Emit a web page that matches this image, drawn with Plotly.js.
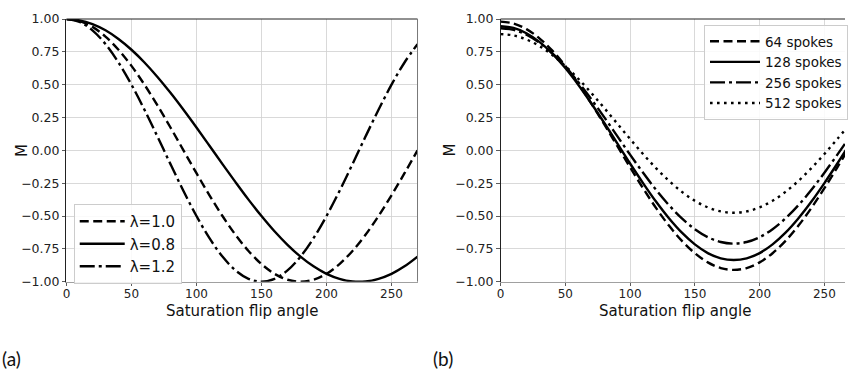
<!DOCTYPE html>
<html>
<head>
<meta charset="utf-8">
<script src="https://cdn.plot.ly/plotly-3.0.1.min.js"></script>
<style>
html,body{margin:0;padding:0;background:#fff;overflow:hidden;}
#chart{width:848px;height:370px;overflow:hidden;}
</style>
</head>
<body>
<div id="chart"></div>
<script>
// ---- data ----
const angleLeft = [0,10,20,30,40,50,60,70,80,90,100,110,120,130,140,150,160,170,180,190,200,210,220,230,240,250,260,270];
const lambda10 = [1,0.985,0.940,0.866,0.766,0.643,0.5,0.342,0.174,0,-0.174,-0.342,-0.5,-0.643,-0.766,-0.866,-0.940,-0.985,-1,-0.985,-0.940,-0.866,-0.766,-0.643,-0.5,-0.342,-0.174,0];
const lambda08 = [1,0.990,0.961,0.914,0.848,0.766,0.669,0.559,0.438,0.309,0.174,0.035,-0.105,-0.242,-0.375,-0.5,-0.616,-0.719,-0.809,-0.883,-0.940,-0.978,-0.998,-0.998,-0.978,-0.940,-0.883,-0.809];
const lambda12 = [1,0.978,0.914,0.809,0.669,0.5,0.309,0.105,-0.105,-0.309,-0.5,-0.669,-0.809,-0.914,-0.978,-1,-0.978,-0.914,-0.809,-0.669,-0.5,-0.309,-0.105,0.105,0.309,0.5,0.669,0.809];

const angleRight = [0,10,20,30,40,50,60,70,80,90,100,110,120,130,140,150,160,170,180,190,200,210,220,230,240,250,260,270];
const spokes64  = [0.980,0.966,0.923,0.853,0.759,0.643,0.508,0.358,0.199,0.035,-0.129,-0.288,-0.438,-0.573,-0.689,-0.783,-0.853,-0.896,-0.910,-0.896,-0.853,-0.783,-0.689,-0.573,-0.438,-0.288,-0.129,0.035];
const spokes128 = [0.945,0.932,0.892,0.826,0.737,0.627,0.500,0.359,0.210,0.055,-0.100,-0.249,-0.390,-0.517,-0.627,-0.716,-0.782,-0.822,-0.835,-0.822,-0.782,-0.716,-0.627,-0.517,-0.390,-0.249,-0.100,0.055];
const spokes256 = [0.930,0.918,0.881,0.820,0.738,0.637,0.520,0.390,0.253,0.110,-0.033,-0.170,-0.300,-0.417,-0.518,-0.600,-0.661,-0.698,-0.710,-0.698,-0.661,-0.600,-0.518,-0.417,-0.300,-0.170,-0.033,0.110];
const spokes512 = [0.885,0.875,0.844,0.794,0.726,0.642,0.545,0.438,0.323,0.205,0.087,-0.028,-0.135,-0.232,-0.316,-0.384,-0.434,-0.465,-0.475,-0.465,-0.434,-0.384,-0.316,-0.232,-0.135,-0.028,0.087,0.205];

const leftNames = ['\u03bb=1.0','\u03bb=0.8','\u03bb=1.2'];
const rightNames = ['64 spokes','128 spokes','256 spokes','512 spokes'];
const yTicks = [-1,-0.75,-0.5,-0.25,0,0.25,0.5,0.75,1];
const xTicks = [0,50,100,150,200,250];
const panelLabels = ['(a)','(b)'];
const xTitle = 'Saturation flip angle';
const yTitle = 'M';

// ---- styles ----
const FONT = 'DejaVu Sans, sans-serif';
const LW = 2.4;
const DASH = '9px,4.5px';
const DASHDOT = '15px,4px,3px,4px';
const DOT = '2.6px,4.4px';

function tr(x, y, name, dash, xa, ya, lg){
  return {x:x, y:y, name:name, type:'scatter', mode:'lines',
    line:{color:'#000', width:LW, dash:dash, shape:'spline', smoothing:1},
    xaxis:xa, yaxis:ya, legend:lg, hoverinfo:'skip'};
}

const data = [
  tr(angleLeft, lambda10, leftNames[0], DASH, 'x', 'y', 'legend'),
  tr(angleLeft, lambda08, leftNames[1], 'solid', 'x', 'y', 'legend'),
  tr(angleLeft, lambda12, leftNames[2], DASHDOT, 'x', 'y', 'legend'),
  tr(angleRight, spokes64, rightNames[0], DASH, 'x2', 'y2', 'legend2'),
  tr(angleRight, spokes128, rightNames[1], 'solid', 'x2', 'y2', 'legend2'),
  tr(angleRight, spokes256, rightNames[2], DASHDOT, 'x2', 'y2', 'legend2'),
  tr(angleRight, spokes512, rightNames[3], DOT, 'x2', 'y2', 'legend2')
];

const W = 848, H = 370;
const yDom = [1 - 281.7/H, 1 - 19/H];

function xax(dom, range, anchor){
  return {domain:dom, range:range, anchor:anchor, tickvals:xTicks, ticktext:xTicks.map(String),
    showgrid:true, gridcolor:'#d0d0d0', gridwidth:0.8, zeroline:false,
    showline:true, linecolor:'#a0a0a0', linewidth:1.6, ticks:'outside', ticklen:2.5, tickwidth:0.8, tickcolor:'#333',
    ticklabelstandoff:-2,
    tickfont:{family:FONT, size:12, color:'#222'}};
}
function yax(range, anchor){
  return {domain:yDom, range:range, anchor:anchor, tickvals:yTicks, tickformat:'.2f',
    showgrid:true, gridcolor:'#d0d0d0', gridwidth:0.8, zeroline:false,
    showline:true, linecolor:'#222', linewidth:1, ticks:'outside', ticklen:3.5, tickwidth:0.8, tickcolor:'#333',
    tickfont:{family:FONT, size:12.5, color:'#222'}};
}
function titleAnn(text, x, y, angle){
  return {text:text, xref:'paper', yref:'paper', x:x/W, y:1-y/H, xanchor:'center', yanchor:'middle',
    showarrow:false, textangle:angle, font:{family:FONT, size:15, color:'#111'}};
}

const layout = {
  width:W, height:H, margin:{l:0,r:0,t:0,b:0},
  paper_bgcolor:'#fff', plot_bgcolor:'#fff',
  showlegend:true,
  xaxis: xax([66.7/W, 419/W], [0,270], 'y'),
  yaxis: yax([-1,1], 'x'),
  xaxis2: xax([502.3/W, 1], [0,265.9], 'y2'),
  yaxis2: yax([-1,1], 'x2'),
  legend:{x:74/W, y:1-204/H, xanchor:'left', yanchor:'top', bgcolor:'rgba(255,255,255,0.85)',
    bordercolor:'#cccccc', borderwidth:1, font:{family:FONT, size:15, color:'#111'}, itemwidth:45},
  legend2:{x:706.7/W, y:1-25/H, xanchor:'left', yanchor:'top', bgcolor:'rgba(255,255,255,0.85)',
    bordercolor:'#cccccc', borderwidth:1, font:{family:FONT, size:13.5, color:'#111'}, itemwidth:50},
  shapes:[
    {type:'line', xref:'x domain', yref:'y domain', x0:0, x1:1, y0:1, y1:1, line:{color:'#222', width:1}},
    {type:'line', xref:'x domain', yref:'y domain', x0:1, x1:1, y0:0, y1:1, line:{color:'#777', width:1}},
    {type:'line', xref:'x2 domain', yref:'y2 domain', x0:0, x1:1, y0:1, y1:1, line:{color:'#222', width:1}}
  ],
  annotations:[
    titleAnn(xTitle, 242.8, 311, 0),
    titleAnn(xTitle, 677, 311, 0),
    titleAnn(yTitle, 22, 150, -90),
    titleAnn(yTitle, 452, 150, -90),
    {text:panelLabels[0], xref:'paper', yref:'paper', x:0, y:1-358/H, xanchor:'left', yanchor:'middle', showarrow:false,
      font:{family:'Lato, Open Sans, sans-serif', size:19, color:'#111'}},
    {text:panelLabels[1], xref:'paper', yref:'paper', x:433/W, y:1-358/H, xanchor:'left', yanchor:'middle', showarrow:false,
      font:{family:'Lato, Open Sans, sans-serif', size:19, color:'#111'}}
  ]
};

Plotly.newPlot('chart', data, layout, {staticPlot:true, displayModeBar:false});
</script>
</body>
</html>
